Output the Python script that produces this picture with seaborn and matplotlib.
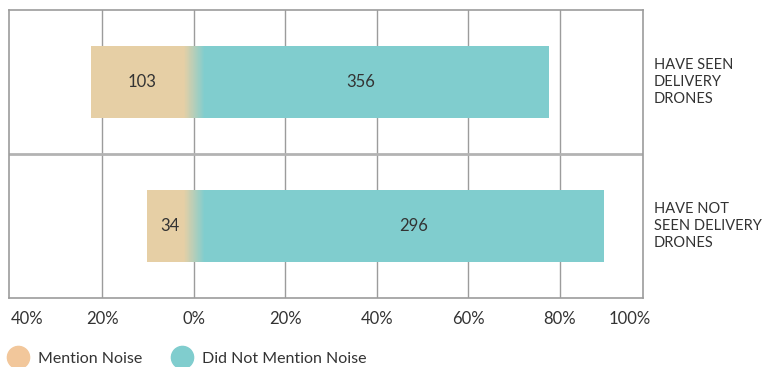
import numpy as np
import pandas as pd
import matplotlib
matplotlib.use("Agg")
import matplotlib.pyplot as plt
from matplotlib.lines import Line2D
from matplotlib.colors import to_rgb
import seaborn as sns

# Survey responses by drone exposure
groups = ["HAVE SEEN\nDELIVERY\nDRONES", "HAVE NOT\nSEEN DELIVERY\nDRONES"]
mention_noise = [103, 34]
no_mention = [356, 296]
tick_values = [-0.4, -0.2, 0.0, 0.2, 0.4, 0.6, 0.8]
tick_labels = ["40%", "20%", "0%", "20%", "40%", "60%", "80%"]

totals = [a + b for a, b in zip(mention_noise, no_mention)]
df = pd.DataFrame({
    "group": groups,
    "mention": [-a / t for a, t in zip(mention_noise, totals)],
    "no_mention": [b / t for b, t in zip(no_mention, totals)],
})

tan = "#E6CFA5"
teal = "#80CDCE"
legend_tan = "#F2C79B"
text_col = "#333333"
grid_col = "#9c9c9c"

sns.set_theme(style="white")
plt.rcParams["font.family"] = ["Lato", "DejaVu Sans"]

fig = plt.figure(figsize=(7.63, 3.67), dpi=100)
ax = fig.add_axes([9 / 763, 1 - 298 / 367, (643 - 9) / 763, (298 - 10) / 367])

bar_width = 0.5
sns.barplot(data=df, y="group", x="no_mention", color=teal, saturation=1,
            width=bar_width, orient="h", ax=ax, zorder=3, linewidth=0)
sns.barplot(data=df, y="group", x="mention", color=tan, saturation=1,
            width=bar_width, orient="h", ax=ax, zorder=3, linewidth=0)

# soft blend between the two segments around zero, built from thin slices
c0, c1 = np.array(to_rgb(tan)), np.array(to_rgb(teal))
edges = np.linspace(-0.022, 0.024, 61)
mix = np.linspace(0, 1, len(edges) - 1)
slice_colors = [tuple(c0 * (1 - m) + c1 * m) for m in mix]
for i in range(len(groups)):
    ax.barh([i] * (len(edges) - 1), np.diff(edges) * 1.05, left=edges[:-1],
            height=bar_width, color=slice_colors, linewidth=0, zorder=4)

ax.set_xlim(-0.404, 0.982)
ax.set_ylim(1.5, -0.5)

# value labels
pos_label_x = [0.364, 0.481]
for i in range(len(groups)):
    ax.text(df["mention"][i] / 2, i, str(mention_noise[i]), ha="center",
            va="center", fontsize=12, color=text_col, zorder=5)
    ax.text(pos_label_x[i], i, str(no_mention[i]), ha="center",
            va="center", fontsize=12, color=text_col, zorder=5)

# group names on the right
for i, g in enumerate(groups):
    ax.text(1.0 + 11 / 634, i, g, transform=ax.get_yaxis_transform(),
            ha="left", va="center", fontsize=10.5, color=text_col,
            linespacing=1.25)

# grid and frame
for v in tick_values[1:]:
    ax.axvline(v, color=grid_col, lw=1, zorder=1)
ax.axhline(0.5, color="#b3b3b3", lw=2, zorder=2)
for s in ax.spines.values():
    s.set_visible(True)
    s.set_color(grid_col)
    s.set_linewidth(1.2)

ax.set_xticks(tick_values)
ax.set_xticklabels(tick_labels, fontsize=12, color=text_col)
ax.get_xticklabels()[0].set_ha("left")
ax.tick_params(axis="x", length=0, pad=9)
ax.text(1.0, -0.045, "100%", transform=ax.get_xaxis_transform(),
        ha="right", va="top", fontsize=12, color=text_col)
ax.set_yticks([])
ax.set_xlabel("")
ax.set_ylabel("")

handles = [
    Line2D([], [], marker="o", ls="", markersize=16, color=legend_tan),
    Line2D([], [], marker="o", ls="", markersize=16, color=teal),
]
fig.legend(handles, ["Mention Noise", "Did Not Mention Noise"], ncol=2,
           frameon=False, loc="center left", bbox_to_anchor=(-0.002, 0.022),
           fontsize=11.5, handletextpad=0.25, columnspacing=1.5,
           labelcolor=text_col, borderaxespad=0, borderpad=0.2)

fig.savefig("out.png", dpi=100)
